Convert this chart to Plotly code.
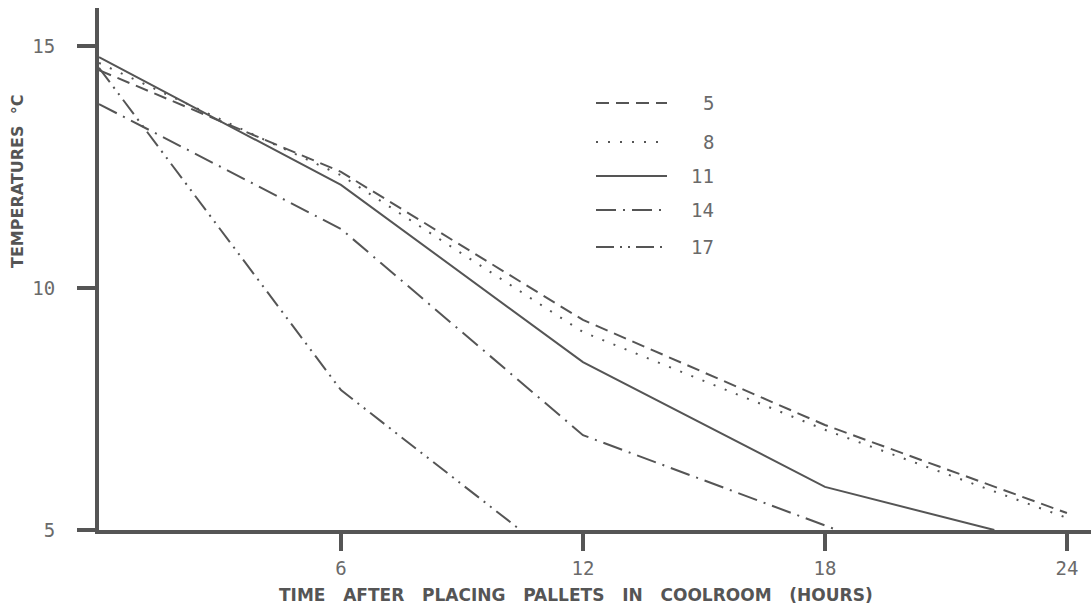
import plotly.graph_objects as go

# ---- data ----
series_names = ["5", "8", "11", "14", "17"]
x_5 = [0, 6, 12, 18, 24]
y_5 = [14.5, 12.4, 9.34, 7.17, 5.35]
x_8 = [0, 6, 12, 18, 24]
y_8 = [14.65, 12.33, 9.09, 7.07, 5.25]
x_11 = [0, 6, 12, 18, 22.2]
y_11 = [14.77, 12.13, 8.47, 5.89, 5.0]
x_14 = [0, 6, 12, 18.3]
y_14 = [13.8, 11.22, 6.96, 5.0]
x_17 = [0, 6, 10.45]
y_17 = [14.55, 7.89, 5.0]
x_ticks = [6, 12, 18, 24]
y_ticks = [5, 10, 15]

xs = [x_5, x_8, x_11, x_14, x_17]
ys = [y_5, y_8, y_11, y_14, y_17]
dashes = ["13px,7px", "2px,10px", "solid", "20px,7px,2px,7px", "18px,6px,2px,6px,2px,6px"]

INK = "#555555"
TXT = "#6a6a6a"

fig = go.Figure()
for name, x, y, d in zip(series_names, xs, ys, dashes):
    fig.add_trace(go.Scatter(x=x, y=y, mode="lines", name=name, showlegend=False,
                             line=dict(color=INK, width=2, dash=d)))

W, H = 1091, 611
ml, mr, mt, mb = 99, 0, 8, 81
pw = W - ml - mr
ph = H - mt - mb

def px2paper_x(px):
    return (px - ml) / pw

def py2paper_y(py):
    return (H - mb - py) / ph

# custom legend (line samples + labels)
legend_rows = [103, 142, 176, 210, 247]
shapes = []
annotations = []
for name, d, py in zip(series_names, dashes, legend_rows):
    shapes.append(dict(type="line", xref="paper", yref="paper",
                       x0=px2paper_x(596), x1=px2paper_x(667),
                       y0=py2paper_y(py), y1=py2paper_y(py),
                       line=dict(color=INK, width=2, dash=d)))
    annotations.append(dict(text=name, xref="paper", yref="paper",
                            x=px2paper_x(716), y=py2paper_y(py),
                            xanchor="right", yanchor="middle", showarrow=False,
                            font=dict(family="DejaVu Sans Mono", size=19, color=TXT)))

annotations.append(dict(text="TEMPERATURES  °C", xref="paper", yref="paper",
                        x=px2paper_x(17), y=py2paper_y(182), textangle=-90,
                        xanchor="center", yanchor="middle", showarrow=False,
                        font=dict(family="DejaVu Sans", size=16, color=INK, weight="bold")))
annotations.append(dict(text="TIME   AFTER   PLACING   PALLETS   IN   COOLROOM   (HOURS)",
                        xref="paper", yref="paper",
                        x=px2paper_x(576), y=py2paper_y(595),
                        xanchor="center", yanchor="middle", showarrow=False,
                        font=dict(family="DejaVu Sans", size=17, color=INK, weight="bold")))

fig.update_layout(
    width=W, height=H,
    margin=dict(l=ml, r=mr, t=mt, b=mb, pad=0),
    paper_bgcolor="white", plot_bgcolor="white",
    shapes=shapes, annotations=annotations,
    xaxis=dict(range=[0, pw / 40.33], tickvals=x_ticks, ticktext=[str(v) for v in x_ticks],
               showgrid=False, zeroline=False, showline=True, linecolor=INK, linewidth=4,
               ticks="outside", ticklen=17, tickwidth=4, tickcolor=INK,
               ticklabelstandoff=1,
               tickfont=dict(family="DejaVu Sans Mono", size=19, color=TXT)),
    yaxis=dict(range=[5, 5 + ph / 48.4], tickvals=y_ticks, ticktext=[str(v) for v in y_ticks],
               showgrid=False, zeroline=False, showline=True, linecolor=INK, linewidth=4,
               ticks="outside", ticklen=18, tickwidth=4, tickcolor=INK,
               ticklabelstandoff=18,
               tickfont=dict(family="DejaVu Sans Mono", size=19, color=TXT)),
)

fig.write_html("out.html")
